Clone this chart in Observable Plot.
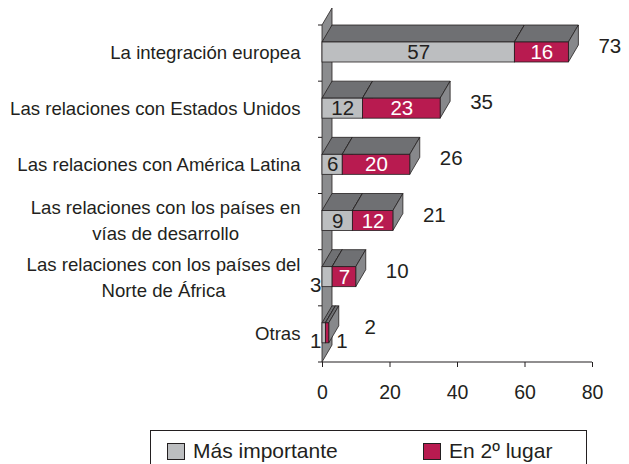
<!DOCTYPE html>
<html><head><meta charset="utf-8">
<script src="https://cdn.jsdelivr.net/npm/d3@7"></script>
<script src="https://cdn.jsdelivr.net/npm/@observablehq/plot@0.6"></script>
<style>
body{margin:0;background:#fff;font-family:"Liberation Sans",Arial,sans-serif;color:#231f20}
#chart{position:relative;width:629px;height:464px;overflow:hidden}
#legend{position:absolute;left:150px;top:430px;width:437px;height:40px;border:1px solid #231f20;box-sizing:border-box}
.item{position:absolute;top:11px;display:flex;align-items:center;font-size:21px;line-height:18px}
.sw{width:18px;height:17px;border:1px solid #231f20;box-sizing:border-box;margin-right:8px}
</style></head><body>
<div id="chart"><div id="legend"></div></div>
<script>
// ---- data ----
const categories = [
  "La integración europea",
  "Las relaciones con Estados Unidos",
  "Las relaciones con América Latina",
  "Las relaciones con los países en\nvías de desarrollo",
  "Las relaciones con los países del\nNorte de África",
  "Otras"
];
const masImportante = [57, 12, 6, 9, 3, 1];
const enSegundo = [16, 23, 20, 12, 7, 1];
const totales = [73, 35, 26, 21, 10, 2];
const xTicks = [0, 20, 40, 60, 80];
const seriesNames = ["Más importante", "En 2º lugar"];

// ---- style ----
const INK = "#231f20";
const GRAY = "#bcbec0", CRIMSON = "#b81b50", TOP = "#6f7073", SIDE = "#87888b", WALL = "#8b8c8e";
const DX = 10, DY = -17;          // 3D depth offset (px)
const W = 629, H = 420, MT = 25, MB = 58, ML = 322, MR = 37;
const BW = (H - MT - MB) / categories.length;
const FRONT_TOP = 17, FRONT_H = 20;

const rows = categories.map((c, i) => ({cat: c, a: masImportante[i], b: enSegundo[i], total: totales[i]}));
const NS = "http://www.w3.org/2000/svg";

function poly(points, fill) {
  const p = document.createElementNS(NS, "polygon");
  p.setAttribute("points", points.map(d => d.join(",")).join(" "));
  p.setAttribute("fill", fill);
  p.setAttribute("stroke", INK);
  p.setAttribute("stroke-width", 0.8);
  p.setAttribute("stroke-linejoin", "round");
  return p;
}

function prism(x1, x2, front) {
  return Plot.barX(rows, {
    x1, x2, y: "cat",
    insetTop: FRONT_TOP, insetBottom: BW - FRONT_TOP - FRONT_H,
    fill: front, stroke: INK, strokeWidth: 0.8,
    render(index, scales, values, dimensions, context, next) {
      const g = next(index, scales, values, dimensions, context);
      const rects = Array.from(g.querySelectorAll("rect"));
      for (const r of rects) {
        const x = +r.getAttribute("x"), y = +r.getAttribute("y");
        const w = +r.getAttribute("width"), h = +r.getAttribute("height");
        g.insertBefore(poly([[x, y], [x + w, y], [x + w + DX, y + DY], [x + DX, y + DY]], TOP), r);
        g.insertBefore(poly([[x + w, y], [x + w + DX, y + DY], [x + w + DX, y + h + DY], [x + w, y + h]], SIDE), r);
      }
      return g;
    }
  });
}

const wall = Plot.ruleX([0], {
  x: d => d,
  render(index, scales, values, dimensions) {
    const g = d3.create("svg:g");
    const x0 = scales.x(0);
    const top = dimensions.marginTop, bottom = dimensions.height - dimensions.marginBottom;
    g.append(() => poly([[x0, top], [x0 + DX, top + DY], [x0 + DX, bottom + DY], [x0, bottom]], WALL));
    for (const c of categories) {
      const y = scales.y(c);
      g.append("line").attr("x1", x0 - 4).attr("x2", x0).attr("y1", y).attr("y2", y)
        .attr("stroke", INK).attr("stroke-width", 1);
    }
    g.append("line").attr("x1", x0 - 4).attr("x2", dimensions.width - dimensions.marginRight)
      .attr("y1", bottom).attr("y2", bottom).attr("stroke", INK).attr("stroke-width", 1.2);
    return g.node();
  }
});

const plot = Plot.plot({
  width: W, height: H,
  marginTop: MT, marginBottom: MB, marginLeft: ML, marginRight: MR,
  x: {domain: [0, 80]},
  y: {domain: categories, padding: 0, round: false},
  style: {fontFamily: "'Liberation Sans', Arial, sans-serif", fontSize: "18px", color: INK, background: "white"},
  marks: [
    wall,
    prism(0, "a", GRAY),
    prism("a", "total", CRIMSON),
    // labels inside
    Plot.text(rows, {filter: d => d.a >= 5, x: d => d.a / 2, y: "cat", text: d => String(d.a), fill: INK, fontSize: 20.5, dy: -1}),
    Plot.text(rows, {filter: d => d.b >= 5, x: d => d.a + d.b / 2, y: "cat", text: d => String(d.b), fill: "white", fontSize: 20.5, dy: -1}),
    // small labels outside
    Plot.text(rows, {filter: d => d.a < 5, x: 0, y: "cat", text: d => String(d.a), fill: INK, fontSize: 20.5, textAnchor: "end", dx: -1, dy: 7}),
    Plot.text(rows, {filter: d => d.b < 5, x: "total", y: "cat", text: d => String(d.b), fill: INK, fontSize: 20.5, textAnchor: "start", dx: 7, dy: 7}),
    // totals
    Plot.text(rows, {x: "total", y: "cat", text: d => String(d.total), fill: INK, fontSize: 20.5, dx: 41, dy: -7}),
    Plot.axisY({tickSize: 0, tickPadding: 22, fontSize: 18.6, lineHeight: 1.4, dy: -3, label: null}),
    Plot.axisX({ticks: xTicks, tickSize: 5, tickPadding: 18, fontSize: 19.5, label: null})
  ]
});
document.getElementById("chart").prepend(plot);

// center the lines of multi-line category labels within their right-aligned block
plot.querySelectorAll("text").forEach(t => {
  const spans = t.querySelectorAll("tspan");
  if (spans.length > 1) {
    const wMax = Math.max(...Array.from(spans, s => s.getComputedTextLength()));
    t.setAttribute("text-anchor", "middle");
    spans.forEach(s => s.setAttribute("x", (+s.getAttribute("x") || 0) - wMax / 2));
  }
});

// legend
const legend = d3.select("#legend");
const swatchColors = [GRAY, CRIMSON];
const itemLeft = [16, 272];
seriesNames.forEach((n, i) => {
  const it = legend.append("div").attr("class", "item").style("left", itemLeft[i] + "px");
  it.append("div").attr("class", "sw").style("background", swatchColors[i]);
  it.append("span").text(n);
});
</script>
</body></html>
